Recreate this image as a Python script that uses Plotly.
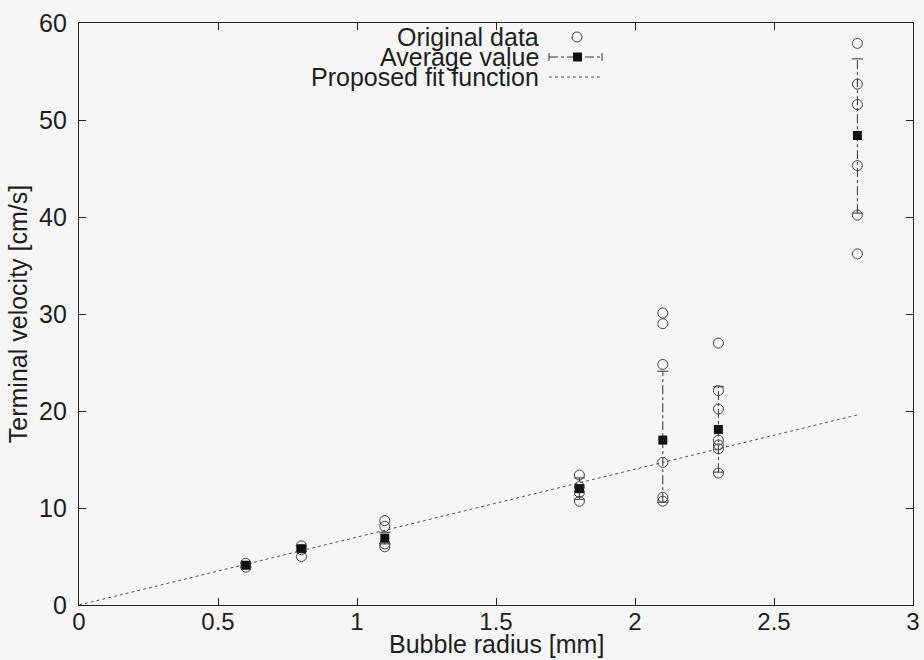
import plotly.graph_objects as go

# ---- data ----
orig_r = [0.6, 0.6, 0.8, 0.8, 0.8, 1.1, 1.1, 1.1, 1.1, 1.8, 1.8, 1.8, 1.8,
          2.1, 2.1, 2.1, 2.1, 2.1, 2.1, 2.3, 2.3, 2.3, 2.3, 2.3, 2.3, 2.3,
          2.8, 2.8, 2.8, 2.8, 2.8, 2.8]
orig_v = [4.3, 3.9, 6.1, 5.7, 5.0, 8.7, 8.1, 6.3, 6.0, 13.4, 12.2, 11.6, 10.7,
          30.1, 29.0, 24.8, 14.7, 11.1, 10.7, 27.0, 22.1, 20.2, 17.0, 16.5, 16.1, 13.6,
          57.9, 53.7, 51.6, 45.3, 40.2, 36.2]

avg_r = [0.6, 0.8, 1.1, 1.8, 2.1, 2.3, 2.8]
avg_v = [4.1, 5.8, 6.9, 12.0, 17.0, 18.1, 48.4]
err_plus = [0.2, 0.3, 0.6, 1.1, 7.1, 4.4, 7.9]
err_minus = [0.2, 0.3, 0.6, 1.1, 6.4, 4.4, 8.0]

fit_r = [0.0, 2.8]
fit_slope = 7.0

names = ["Original data", "Average value", "Proposed fit function"]

# ---- style ----
FONT = "Liberation Sans, Arial, sans-serif"
TXT = "#1e1e1e"
BG = "#f6f6f6"

fig = go.Figure()

# error bar stems (dash-dot) and caps built from avg +/- err
stem_x, stem_y, cap_x, cap_y = [], [], [], []
for r, v, ep, em in zip(avg_r, avg_v, err_plus, err_minus):
    stem_x += [r, r, None]
    stem_y += [v - em, v + ep, None]
    cap_x += [r, r]
    cap_y += [v - em, v + ep]

fig.add_trace(go.Scatter(x=stem_x, y=stem_y, mode="lines",
                         line=dict(color="#333333", width=1, dash="dashdot"),
                         showlegend=False, hoverinfo="skip"))
fig.add_trace(go.Scatter(x=cap_x, y=cap_y, mode="markers",
                         marker=dict(symbol="line-ew", size=8,
                                     line=dict(color="#333333", width=1)),
                         showlegend=False, hoverinfo="skip"))

# fit function
fit_v = [fit_slope * r for r in fit_r]
fig.add_trace(go.Scatter(x=fit_r, y=fit_v, mode="lines", name=names[2],
                         line=dict(color="#555555", width=1, dash="dot"),
                         showlegend=False))

# original data
fig.add_trace(go.Scatter(x=orig_r, y=orig_v, mode="markers", name=names[0],
                         marker=dict(symbol="circle-open", size=10,
                                     color="#444444", line=dict(width=1)),
                         showlegend=False))

# averages
fig.add_trace(go.Scatter(x=avg_r, y=avg_v, mode="markers", name=names[1],
                         marker=dict(symbol="square", size=9, color="#111111"),
                         showlegend=False))

# ---- custom gnuplot-like key (text right, sample on the right) ----
L, R, T, B = 79, 11, 23, 55
W, H = 924 - L - R, 660 - T - B


def px(xp):
    return (xp - L) / W


def py(yp):
    return (660 - B - yp) / H


key_rows = [37, 57, 77]
for name, yy in zip(names, key_rows):
    fig.add_annotation(x=px(540), y=py(yy), xref="paper", yref="paper",
                       text=name, showarrow=False, xanchor="right",
                       yanchor="middle", borderpad=0,
                       font=dict(family=FONT, size=25, color=TXT))

# x-axis title placed like the reference
fig.add_annotation(x=0.5, y=py(659), xref="paper", yref="paper",
                   text="Bubble radius [mm]", showarrow=False,
                   xanchor="center", yanchor="bottom", borderpad=0,
                   font=dict(family=FONT, size=25, color=TXT))

shapes = []
# circle sample
cx, cy, rr = 577, key_rows[0], 5
shapes.append(dict(type="circle", xref="paper", yref="paper",
                   x0=px(cx - rr), x1=px(cx + rr), y0=py(cy + rr), y1=py(cy - rr),
                   line=dict(color="#444444", width=1)))
# average sample: dash-dot line with end caps and square
yk = key_rows[1]
shapes.append(dict(type="line", xref="paper", yref="paper",
                   x0=px(549), x1=px(602), y0=py(yk), y1=py(yk),
                   line=dict(color="#333333", width=1, dash="dashdot")))
for xe in (549, 602):
    shapes.append(dict(type="line", xref="paper", yref="paper",
                       x0=px(xe), x1=px(xe), y0=py(yk - 4), y1=py(yk + 4),
                       line=dict(color="#333333", width=1)))
shapes.append(dict(type="rect", xref="paper", yref="paper",
                   x0=px(573), x1=px(582), y0=py(yk + 4.5), y1=py(yk - 4.5),
                   fillcolor="#111111", line=dict(width=0)))
# fit sample
yf = key_rows[2]
shapes.append(dict(type="line", xref="paper", yref="paper",
                   x0=px(549), x1=px(601), y0=py(yf), y1=py(yf),
                   line=dict(color="#555555", width=1, dash="dot")))

axis_common = dict(showgrid=False, zeroline=False, showline=True, mirror="ticks",
                   linecolor="#222222", linewidth=1.2, ticks="inside", ticklen=7,
                   tickcolor="#222222", tickwidth=1)

fig.update_layout(
    width=924, height=660,
    margin=dict(l=L, r=R, t=T, b=B),
    paper_bgcolor=BG, plot_bgcolor=BG,
    showlegend=False,
    shapes=shapes,
    xaxis=dict(range=[0, 3], dtick=0.5, tickformat="~g",
               tickfont=dict(family=FONT, size=24, color=TXT),
               ticklabelstandoff=-5, automargin=False, **axis_common),
    yaxis=dict(range=[0, 60], dtick=10,
               tickfont=dict(family=FONT, size=25, color=TXT),
               title=dict(text="Terminal velocity [cm/s]", standoff=4,
                          font=dict(family=FONT, size=25, color=TXT)),
               ticklabelstandoff=6, automargin=False, **axis_common),
)

fig.write_html("out.html")
